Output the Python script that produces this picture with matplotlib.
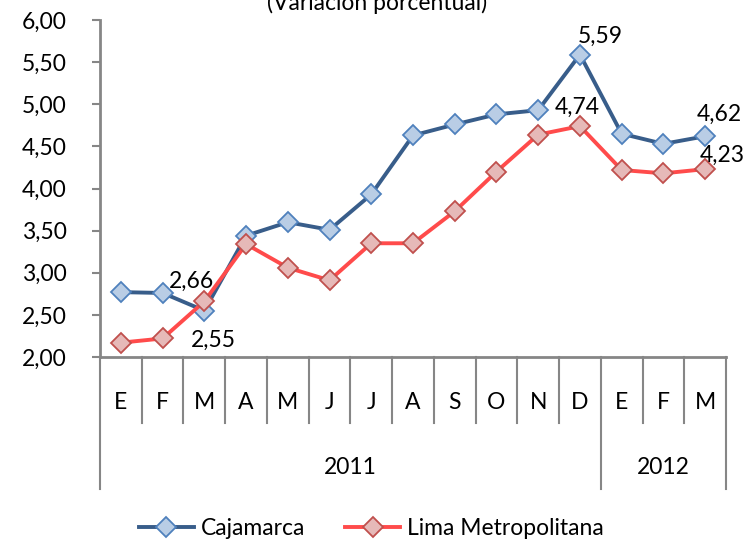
import matplotlib.pyplot as plt
from matplotlib.ticker import FuncFormatter, MultipleLocator

plt.rcParams['font.family'] = ['Lato', 'DejaVu Sans']

# Datos
meses = ['E', 'F', 'M', 'A', 'M', 'J', 'J', 'A', 'S', 'O', 'N', 'D', 'E', 'F', 'M']
anios = ['2011', '2012']
meses_por_anio = [12, 3]
cajamarca = [2.77, 2.76, 2.55, 3.44, 3.60, 3.51, 3.93, 4.63, 4.76, 4.88, 4.93, 5.59, 4.65, 4.53, 4.62]
lima = [2.17, 2.22, 2.66, 3.34, 3.06, 2.91, 3.35, 3.35, 3.73, 4.20, 4.64, 4.74, 4.22, 4.18, 4.23]

fs = 16.5
fig = plt.figure(figsize=(7.47, 5.40), dpi=100)
ax = fig.add_axes([0.1339, 0.3389, 0.838, 0.624])

x = list(range(len(meses)))
ax.plot(x, cajamarca, color='#385D8A', lw=2.8, marker='D', ms=10.5,
        mfc='#B9CDE5', mec='#4F81BD', mew=1.3, label='Cajamarca', zorder=3)
ax.plot(x, lima, color='#FF4B4B', lw=2.8, marker='D', ms=10.5,
        mfc='#E6B9B8', mec='#C0504D', mew=1.3, label='Lima Metropolitana', zorder=3)

ax.set_xlim(-0.5, len(meses) - 0.5)
ax.set_ylim(2.0, 6.0)
ax.yaxis.set_major_locator(MultipleLocator(0.5))
ax.yaxis.set_major_formatter(FuncFormatter(lambda v, p: f'{v:.2f}'.replace('.', ',')))
ax.tick_params(axis='y', labelsize=fs, length=6, width=1.5, color='#868686', pad=18)
ax.set_xticks([])
for s in ['top', 'right']:
    ax.spines[s].set_visible(False)
for s in ['left', 'bottom']:
    ax.spines[s].set_color('#868686')
    ax.spines[s].set_linewidth(2)

# Etiquetas de datos (desplazamientos en puntos)
etiquetas = [
    (2, lima[2], '2,66', -9.4, 9.4),
    (2, cajamarca[2], '2,55', 6.5, -26),
    (11, cajamarca[11], '5,59', 15, 8.6),
    (11, lima[11], '4,74', -2, 8.6),
    (14, cajamarca[14], '4,62', 10, 10.8),
    (14, lima[14], '4,23', 12, 5),
]
for xi, yi, txt, dx, dy in etiquetas:
    ax.annotate(txt, (xi, yi), xytext=(dx, dy), textcoords='offset points',
                ha='center', va='baseline', fontsize=fs)

# Tabla de categorías bajo el eje
trans = ax.get_xaxis_transform()
fila_mes = -0.196
fila_anio = -0.392
limites = [0]
for n in meses_por_anio:
    limites.append(limites[-1] + n)
for i in range(len(meses) + 1):
    bajo = fila_anio if i in limites else fila_mes
    ax.plot([i - 0.5, i - 0.5], [0, bajo], transform=trans, color='#868686', lw=1.5, clip_on=False)
for i, m in enumerate(meses):
    ax.text(i, -0.1365, m, transform=trans, ha='center', va='center', fontsize=fs)
for k, a in enumerate(anios):
    centro = (limites[k] + limites[k + 1]) / 2 - 0.5
    ax.text(centro, -0.329, a, transform=trans, ha='center', va='center', fontsize=fs)

fig.text(0.505, 0.995, '(Variación porcentual)', ha='center', va='center', fontsize=fs)

fig.legend(loc='center', bbox_to_anchor=(0.497, 0.022), ncol=2, frameon=False,
           fontsize=fs, handlelength=2.4, columnspacing=1.75, handletextpad=0.3)

fig.savefig('out.png', dpi=100)
